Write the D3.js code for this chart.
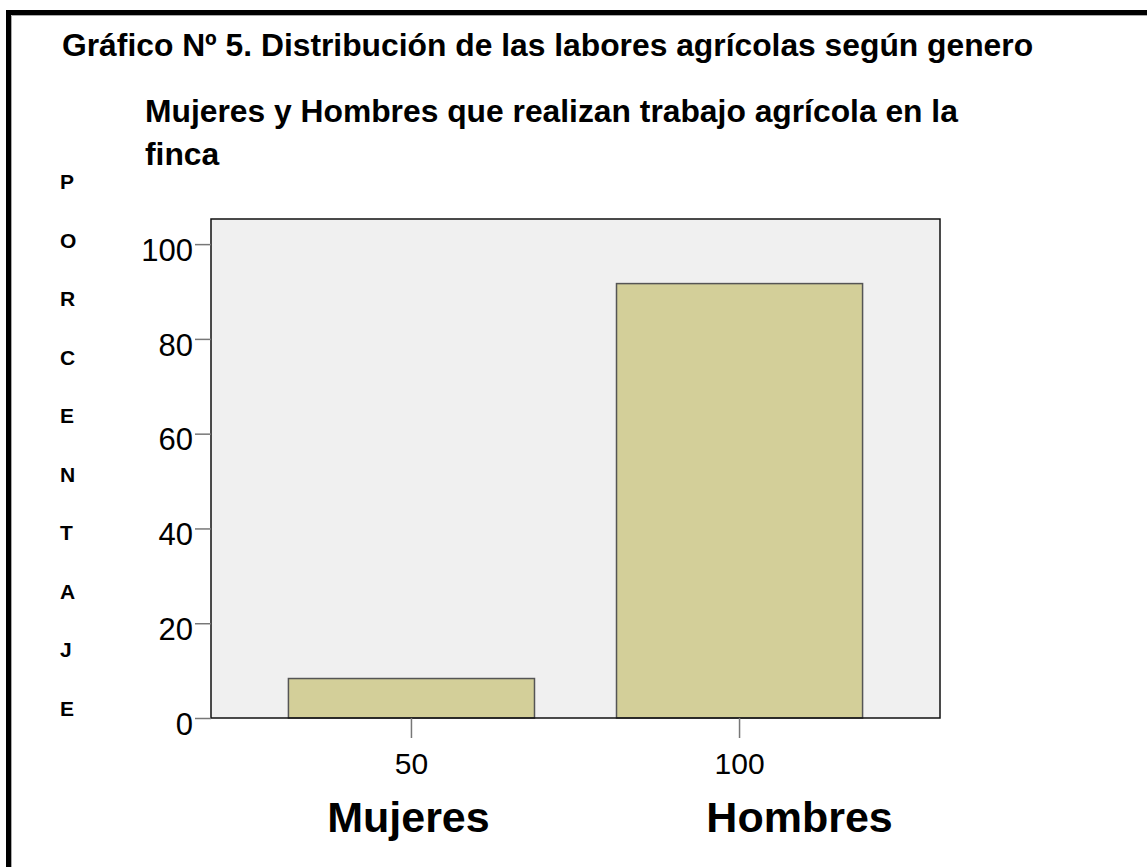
<!DOCTYPE html>
<html><head><meta charset="utf-8">
<script src="https://cdn.jsdelivr.net/npm/d3@7/dist/d3.min.js"></script>
<style>html,body{margin:0;padding:0;background:#fff;}svg{display:block;font-family:"Liberation Sans",Arial,sans-serif;}</style>
</head><body>
<script>
const categories = ["Mujeres", "Hombres"];
const tickLabels = ["50", "100"];
const values = [8.33, 91.67];
const yTicks = [0, 20, 40, 60, 80, 100];
const axisLetters = ["P","O","R","C","E","N","T","A","J","E"];
const title = "Gráfico Nº 5. Distribución de las labores agrícolas según genero";
const subtitle = ["Mujeres y Hombres que realizan trabajo agrícola en la", "finca"];

const W = 1147, H = 867;
const svg = d3.select("body").append("svg").attr("width", W).attr("height", H);

// outer frame (top and left)
svg.append("path").attr("d", `M8.5,${H} V12.5 H${W}`).attr("fill","none").attr("stroke","#000").attr("stroke-width",5);
svg.append("path").attr("d", `M11.5,${H} V15.5 H${W}`).attr("fill","none").attr("stroke","#aaa").attr("stroke-width",1);

svg.append("text").attr("x",62).attr("y",56).attr("font-size",31.8).attr("font-weight","bold").text(title);
subtitle.forEach((s,i)=>svg.append("text").attr("x",145).attr("y",122+i*43).attr("font-size",31.8).attr("font-weight","bold").text(s));

axisLetters.forEach((l,i)=>svg.append("text").attr("x",60).attr("y",189+i*58.5).attr("font-size",21).attr("font-weight","bold").text(l));

const L = 211, R = 940, T = 219, B = 718;
const x = d3.scaleBand().domain(categories).range([L,R]).paddingInner(0.25).paddingOuter(0.236);
const y = d3.scaleLinear().domain([0,105.3]).range([B,T]);

svg.append("rect").attr("x",L).attr("y",T).attr("width",R-L).attr("height",B-T).attr("fill","#f0f0f0");

svg.selectAll(".bar").data(values).join("rect")
  .attr("x",(d,i)=>x(categories[i])).attr("y",d=>y(d))
  .attr("width",x.bandwidth()).attr("height",d=>y(0)-y(d))
  .attr("fill","#d3cf99").attr("stroke","#555").attr("stroke-width",1.5);

svg.append("rect").attr("x",L).attr("y",T).attr("width",R-L).attr("height",B-T).attr("fill","none").attr("stroke","#111").attr("stroke-width",1.5);

// y axis
const ya = svg.append("g").attr("transform",`translate(${L},0)`)
  .call(d3.axisLeft(y).tickValues(yTicks).tickSize(16).tickPadding(2).tickFormat(d3.format("d")));
ya.select(".domain").remove();
ya.selectAll(".tick line").attr("stroke","#777").attr("stroke-width",1.5);
ya.selectAll(".tick text").attr("font-size",31).attr("fill","#000").attr("font-family","Liberation Sans, Arial, sans-serif").attr("dy","0.52em");

// x axis
const xa = svg.append("g").attr("transform",`translate(0,${B})`)
  .call(d3.axisBottom(x).tickSize(20).tickPadding(15).tickFormat((d,i)=>tickLabels[i]));
xa.select(".domain").remove();
xa.selectAll(".tick line").attr("stroke","#777").attr("stroke-width",1.5);
xa.selectAll(".tick text").attr("font-size",30).attr("fill","#000").attr("font-family","Liberation Sans, Arial, sans-serif");

// category labels
const catX = [x("Mujeres")+x.bandwidth()/2 - 3, x("Hombres")+x.bandwidth()/2 + 60];
categories.forEach((c,i)=>svg.append("text").attr("x",catX[i]).attr("y",832).attr("text-anchor","middle")
  .attr("font-size",43).attr("font-weight","bold").text(c));
</script>
</body></html>
